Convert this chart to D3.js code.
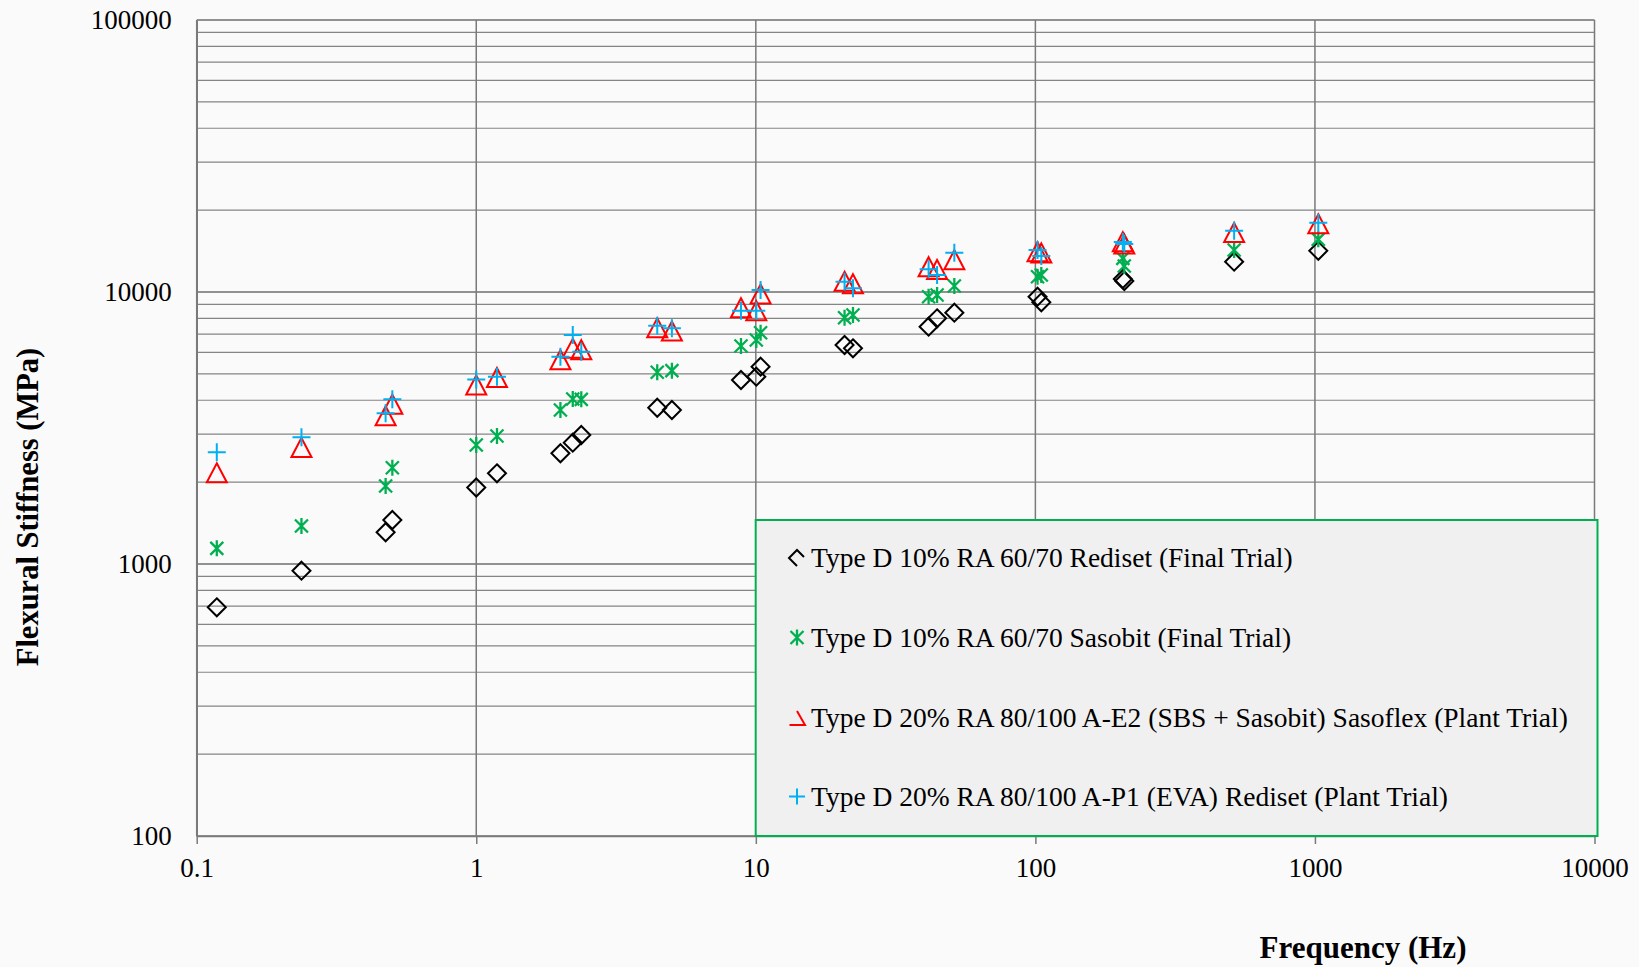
<!DOCTYPE html>
<html>
<head>
<meta charset="utf-8">
<script src="https://cdn.jsdelivr.net/npm/d3@7/dist/d3.min.js"></script>
<style>
  html, body { margin: 0; padding: 0; background: #fafafa; }
  svg { display: block; }
  text { font-family: "Liberation Serif", "Times New Roman", serif; fill: #000; }
</style>
</head>
<body>
<svg id="chart" width="1639" height="967"></svg>
<script>
// Test frequencies (Hz) shared by all mixes
const frequencies = [0.118, 0.237, 0.474, 0.501, 1.0, 1.186, 2.0, 2.214, 2.375, 4.44, 5.01,
  8.85, 10.04, 10.4, 20.77, 22.26, 41.5, 44.5, 51.3, 101.8, 105.0, 205.5, 208.0, 514, 1028];

// Flexural stiffness (MPa) per mix
const stiffRedisetFinal = [693, 945, 1308, 1451, 1911, 2155, 2553, 2793, 2981, 3754, 3682,
  4748, 4883, 5313, 6386, 6209, 7454, 8004, 8393, 9610, 9165, 11163, 10975, 12925, 14180];
const stiffSasobitFinal = [1142, 1379, 1936, 2259, 2738, 2955, 3682, 4043, 4030, 5069, 5138,
  6333, 6661, 7086, 8045, 8231, 9610, 9750, 10522, 11380, 11548, 13300, 12460, 14266, 15620];
const stiffSasoflexPlant = [2164, 2681, 3506, 3868, 4550, 4851, 5637, 6209, 6136, 7386, 7188,
  8756, 8535, 9832, 10947, 10727, 12388, 12098, 13146, 14065, 13910, 15308, 15016, 16552, 17810];
const stiffEvaRedisetPlant = [2575, 2923, 3581, 4033, 4767, 4883, 5782, 6948, 6034, 7518, 7354,
  8535, 8535, 10170, 10911, 10318, 12117, 11548, 13945, 14266, 13562, 15270, 15016, 16805, 17980];

const seriesNames = [
  "Type D 10% RA 60/70 Rediset (Final Trial)",
  "Type D 10% RA 60/70 Sasobit (Final Trial)",
  "Type D 20% RA 80/100 A-E2 (SBS + Sasobit) Sasoflex (Plant Trial)",
  "Type D 20% RA 80/100 A-P1 (EVA) Rediset (Plant Trial)"
];
const seriesColors = ["#000000", "#00b050", "#ff0000", "#00b0f0"];

const xTicks = [0.1, 1, 10, 100, 1000, 10000];
const yTicks = [100, 1000, 10000, 100000];
const xTitle = "Frequency (Hz)";
const yTitle = "Flexural Stiffness (MPa)";

// ---- layout ----
const plot = { left: 196.7, right: 1594.5, top: 20, bottom: 836 };

const svg = d3.select("#chart");
const x = d3.scaleLog().domain([xTicks[0], xTicks[xTicks.length - 1]]).range([plot.left, plot.right]);
const y = d3.scaleLog().domain([yTicks[0], yTicks[yTicks.length - 1]]).range([plot.bottom, plot.top]);

// ---- gridlines: every minor step horizontally, decades vertically ----
const grid = svg.append("g").attr("class", "grid");
const yMinor = [];
yTicks.slice(0, -1).forEach(d => { for (let k = 1; k < 10; k++) yMinor.push(d * k); });
yMinor.push(yTicks[yTicks.length - 1]);

grid.selectAll("line.h").data(yMinor).join("line")
  .attr("class", "h")
  .attr("x1", plot.left).attr("x2", plot.right)
  .attr("y1", d => y(d)).attr("y2", d => y(d))
  .attr("stroke", d => yTicks.includes(d) ? "#6e6e6e" : "#858585")
  .attr("stroke-width", d => yTicks.includes(d) ? 1.6 : 1.2);

grid.selectAll("line.v").data(xTicks).join("line")
  .attr("class", "v")
  .attr("x1", d => x(d)).attr("x2", d => x(d))
  .attr("y1", plot.top).attr("y2", plot.bottom)
  .attr("stroke", "#7a7a7a").attr("stroke-width", 1.5);

// ---- axes ----
const fmt = d3.format("~g");
const xAxis = svg.append("g")
  .attr("transform", `translate(0,${plot.bottom})`)
  .call(d3.axisBottom(x).tickValues(xTicks).tickFormat(fmt).tickSize(8).tickSizeOuter(0));
xAxis.select(".domain").attr("stroke", "#7a7a7a").attr("stroke-width", 1.6);
xAxis.selectAll(".tick line").attr("stroke", "#7a7a7a").attr("stroke-width", 1.5);
xAxis.selectAll(".tick text")
  .attr("font-family", "Liberation Serif, serif").attr("font-size", 27)
  .attr("y", 41).attr("dy", 0).attr("fill", "#000");

const yAxis = svg.append("g")
  .attr("transform", `translate(${plot.left},0)`)
  .call(d3.axisLeft(y).tickValues(yTicks).tickFormat(fmt).tickSize(0).tickSizeOuter(0));
yAxis.select(".domain").attr("stroke", "#7a7a7a").attr("stroke-width", 1.6);
yAxis.selectAll(".tick text")
  .attr("font-family", "Liberation Serif, serif").attr("font-size", 27)
  .attr("x", -25).attr("dy", "0.33em").attr("fill", "#000");

// ---- axis titles ----
svg.append("text")
  .attr("x", 1363).attr("y", 958)
  .attr("text-anchor", "middle")
  .attr("font-size", 31).attr("font-weight", "bold")
  .text(xTitle);

svg.append("text")
  .attr("transform", "translate(37.5,507) rotate(-90)")
  .attr("text-anchor", "middle")
  .attr("font-size", 30.5).attr("font-weight", "bold")
  .text(yTitle);

// ---- marker shapes ----
const markerPaths = [
  "M0,-9L9,0L0,9L-9,0Z",                       // diamond
  "M-6.5,-6.5L6.5,6.5M-6.5,6.5L6.5,-6.5M0,-8V8", // asterisk
  "M0,-9.5L10,9.5L-10,9.5Z",                   // triangle
  "M-9,0H9M0,-9V9"                             // plus
];
const legendPaths = [
  "M0,8L-8,0L0,-8L7,-1",
  "M-6.5,-6.5L6.5,6.5M-6.5,6.5L6.5,-6.5M0,-8V8",
  "M0,-7L8,7L-7.5,7",
  "M-8,0H8M0,-8V8"
];
const markerWidths = [2, 2.3, 2, 2];

const seriesValues = [stiffRedisetFinal, stiffSasobitFinal, stiffSasoflexPlant, stiffEvaRedisetPlant];

const marks = svg.append("g").attr("class", "marks");
seriesValues.forEach((vals, i) => {
  const pts = frequencies.map((f, j) => ({ f, v: vals[j] })).filter(p => p.v != null);
  marks.append("g")
    .selectAll("path").data(pts).join("path")
    .attr("transform", p => `translate(${x(p.f)},${y(p.v)})`)
    .attr("d", markerPaths[i])
    .attr("fill", "none")
    .attr("stroke", seriesColors[i])
    .attr("stroke-width", markerWidths[i]);
});

// ---- legend ----
const legend = svg.append("g").attr("class", "legend");
legend.append("rect")
  .attr("x", 755.7).attr("y", 520).attr("width", 841.8).attr("height", 316)
  .attr("fill", "#f0f0f0").attr("stroke", "#00b050").attr("stroke-width", 2);

const legendRowY = [558, 637.5, 718, 796.5];
seriesNames.forEach((name, i) => {
  const row = legend.append("g").attr("transform", `translate(797,${legendRowY[i]})`);
  row.append("path")
    .attr("d", legendPaths[i])
    .attr("fill", "none").attr("stroke", seriesColors[i]).attr("stroke-width", markerWidths[i]);
  row.append("text")
    .attr("x", 14).attr("y", 9)
    .attr("font-size", 27.5)
    .text(name);
});
</script>
</body>
</html>
